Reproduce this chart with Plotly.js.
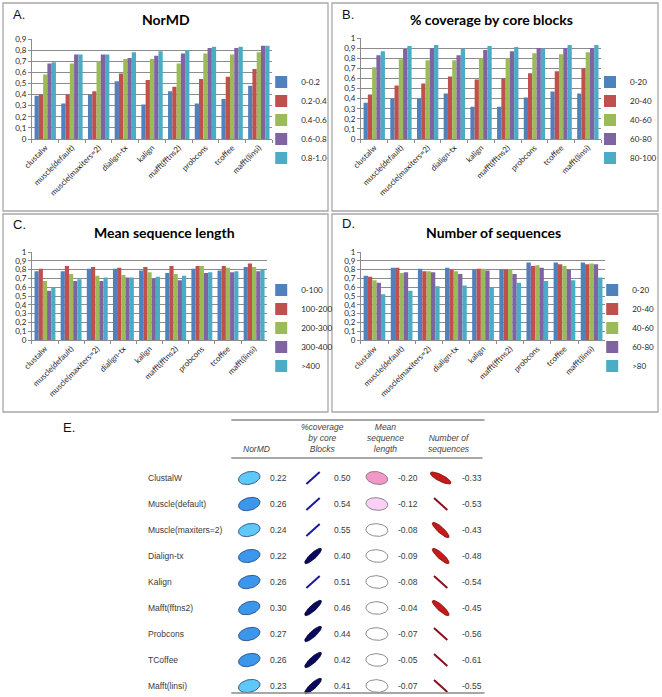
<!DOCTYPE html>
<html><head><meta charset="utf-8">
<script src="https://cdn.plot.ly/plotly-3.0.1.min.js"></script>
<style>html,body{margin:0;padding:0;background:#fff;} #chart{width:662px;height:697px;}</style>
</head><body><div id="chart"></div>
<script>
// ---------------- DATA ----------------
const methods = ['clustalw','muscle(default)','muscle(maxiters=2)','dialign-tx','kalign','mafft(fftns2)','probcons','tcoffee','mafft(linsi)'];

const normdBins = ['0-0.2','0.2-0.4','0.4-0.6','0.6-0.8','0.8-1.0'];
const normdValues = [
  [0.39,0.32,0.40,0.52,0.31,0.43,0.32,0.36,0.48],
  [0.40,0.40,0.43,0.59,0.53,0.47,0.54,0.56,0.63],
  [0.58,0.68,0.70,0.72,0.72,0.68,0.77,0.76,0.78],
  [0.68,0.76,0.76,0.73,0.75,0.77,0.82,0.82,0.84],
  [0.69,0.76,0.76,0.78,0.79,0.80,0.83,0.83,0.84]];

const coverageBins = ['0-20','20-40','40-60','60-80','80-100'];
const coverageValues = [
  [0.36,0.40,0.40,0.45,0.32,0.32,0.41,0.47,0.45],
  [0.44,0.53,0.55,0.62,0.59,0.60,0.65,0.67,0.70],
  [0.71,0.79,0.78,0.78,0.80,0.80,0.85,0.84,0.86],
  [0.83,0.89,0.90,0.83,0.88,0.87,0.90,0.90,0.90],
  [0.87,0.92,0.93,0.89,0.92,0.91,0.89,0.93,0.93]];

const lengthBins = ['0-100','100-200','200-300','300-400','>400'];
const lengthValues = [
  [0.78,0.78,0.81,0.81,0.79,0.76,0.81,0.79,0.83],
  [0.81,0.84,0.83,0.82,0.83,0.84,0.84,0.84,0.87],
  [0.67,0.75,0.73,0.74,0.77,0.75,0.84,0.82,0.83],
  [0.56,0.67,0.67,0.71,0.70,0.68,0.76,0.77,0.78],
  [0.60,0.69,0.71,0.71,0.72,0.73,0.77,0.78,0.80]];

const nseqBins = ['0-20','20-40','40-60','60-80','>80'];
const nseqValues = [
  [0.73,0.82,0.81,0.82,0.80,0.80,0.88,0.88,0.88],
  [0.72,0.82,0.78,0.80,0.81,0.80,0.84,0.86,0.86],
  [0.68,0.76,0.78,0.78,0.81,0.80,0.85,0.84,0.87],
  [0.65,0.77,0.77,0.75,0.79,0.75,0.82,0.80,0.86],
  [0.52,0.56,0.61,0.62,0.60,0.65,0.67,0.68,0.71]];

const tableMethods = ['ClustalW','Muscle(default)','Muscle(maxiters=2)','Dialign-tx','Kalign','Mafft(fftns2)','Probcons','TCoffee','Mafft(linsi)'];
const tableHeaders = ['NorMD','%coverage<br>by core<br>Blocks','Mean<br>sequence<br>length','Number of<br>sequences'];
const corrNorMD    = [0.22,0.26,0.24,0.22,0.26,0.30,0.27,0.26,0.23];
const corrCoverage = [0.50,0.54,0.55,0.40,0.51,0.46,0.44,0.42,0.41];
const corrLength   = [-0.20,-0.12,-0.08,-0.09,-0.08,-0.04,-0.07,-0.05,-0.07];
const corrNseq     = [-0.33,-0.53,-0.43,-0.48,-0.54,-0.45,-0.56,-0.61,-0.55];

// ---------------- STYLE ----------------
const W = 662, H = 697;
const barColors = ['#4F81BD','#C0504D','#9BBB59','#8064A2','#4BACC6'];
const normdShade = ['light','mid','light','mid','mid','mid','mid','mid','light'];
const px = v => v / W;
const py = v => 1 - v / H;
const xdom = (a,b) => [a/W, b/W];
const ydom = (top,bottom) => [1-bottom/H, 1-top/H];
const tickFont = {family:'Lato, "Open Sans", sans-serif', size:8, color:'#262626'};
const grid = '#8C8C8C';

const panels = [
  {bins:normdBins, vals:normdValues, xa:'x', ya:'y', leg:'legend', xd:[32,273], yd:[39,139], range:[0,0.9], lx:262, ly:120},
  {bins:coverageBins, vals:coverageValues, xa:'x2', ya:'y2', leg:'legend2', xd:[362,603], yd:[38,139], range:[0,1], lx:592, ly:120},
  {bins:lengthBins, vals:lengthValues, xa:'x3', ya:'y3', leg:'legend3', xd:[32,268], yd:[252,340], range:[0,1], lx:262, ly:328},
  {bins:nseqBins, vals:nseqValues, xa:'x4', ya:'y4', leg:'legend4', xd:[362,607], yd:[252,340], range:[0,1], lx:594, ly:328}
];

const traces = [];
const layout = {
  width: W, height: H, margin:{l:0,r:0,t:0,b:0},
  paper_bgcolor:'#fff', plot_bgcolor:'rgba(0,0,0,0)',
  separators: ', ',
  barmode:'group', bargap:0.2, bargroupgap:0,
  showlegend:true,
  shapes:[], annotations:[]
};

panels.forEach((p, pi) => {
  const sfx = pi === 0 ? '' : String(pi+1);
  p.bins.forEach((b, bi) => {
    traces.push({
      type:'bar', name:b, x:methods, y:p.vals[bi],
      xaxis:p.xa, yaxis:p.ya, legend:p.leg,
      marker:{color:barColors[bi], line:{width:0}},
      hoverinfo:'x+y+name'
    });
  });
  layout['xaxis'+sfx] = {
    domain: xdom(p.xd[0], p.xd[1]), anchor: p.ya, type:'category',
    tickangle:-45, tickfont:tickFont, showline:true, linecolor:grid, linewidth:1,
    ticks:'outside', ticklen:3, tickcolor:grid, tickson:'boundaries', showgrid:false, fixedrange:true
  };
  layout['yaxis'+sfx] = {
    domain: ydom(p.yd[0], p.yd[1]), anchor: p.xa, range:p.range, dtick:0.1, tick0:0,
    tickfont:tickFont, showline:true, linecolor:grid, linewidth:1, ticks:'outside', ticklen:3, tickcolor:grid,
    showgrid:true, gridcolor:grid, gridwidth:1, zeroline:false, fixedrange:true
  };
  layout[p.leg] = {
    x: px(p.lx), y: py(p.ly), xanchor:'left', yanchor:'middle',
    font:{family:'Lato, "Open Sans", sans-serif', size:8, color:'#262626'},
    bgcolor:'rgba(0,0,0,0)', itemwidth:30, tracegroupgap:0
  };
});

// panel frames
[[3,3,329,211],[333,3,660,211],[3,214,329,412],[333,214,660,412]].forEach(r => {
  layout.shapes.push({type:'rect', xref:'paper', yref:'paper', x0:px(r[0]), x1:px(r[2]), y0:py(r[1]), y1:py(r[3]),
    line:{color:'#A8A8A8', width:1.3}, fillcolor:'rgba(0,0,0,0)', layer:'below'});
});

// titles and panel letters
const titleFont = {family:'Lato, "Open Sans", sans-serif', size:14, color:'#000'};
[['NorMD',167,20],['% coverage by core blocks',493,20],['Mean sequence length',165,233],['Number of sequences',495,233]].forEach(t => {
  layout.annotations.push({text:'<b>'+t[0]+'</b>', xref:'paper', yref:'paper', x:px(t[1]), y:py(t[2]), xanchor:'center', yanchor:'middle', showarrow:false, font:titleFont});
});
const letterFont = {family:'"Liberation Sans", Arial, sans-serif', size:13, color:'#111'};
[['A.',11,15],['B.',341,15],['C.',11,225],['D.',341,224],['E.',61,428]].forEach(t => {
  layout.annotations.push({text:t[0], xref:'paper', yref:'paper', x:px(t[1]), y:py(t[2]), xanchor:'left', yanchor:'middle', showarrow:false, font:letterFont});
});

// ---------------- TABLE (panel E) ----------------
const PXX = 64, PXY = 26;           // pixels per table unit (column, row)
const col0 = 250, row0 = 478;       // pixel centre of first glyph column / first row
layout.xaxis5 = {domain: xdom(219,483), anchor:'y5', range:[(219-col0)/PXX, (483-col0)/PXX], visible:false, fixedrange:true};
layout.yaxis5 = {domain: ydom(465,697), anchor:'x5', range:[(697-row0)/PXY, (465-row0)/PXY], visible:false, fixedrange:true};

function glyphSpec(r) {
  const m = Math.abs(r), s = Math.sign(r);
  if (m >= 0.5) return {kind:'line', half:9, ang:42*s};
  if (m >= 0.38) return {kind:'ell', a:11, b:3, ang:42*s};
  if (m >= 0.31) return {kind:'ell', a:11.5, b:3.3, ang:27*s};
  return {kind:'ell', a:11, b:6.3, ang:r*55};
}
function addGlyph(col, row, r, fill, outline, lineColor) {
  const g = glyphSpec(r), th = g.ang*Math.PI/180;
  if (g.kind === 'line') {
    const dx = g.half*Math.cos(th), dy = g.half*Math.sin(th);
    traces.push({type:'scatter', mode:'lines', xaxis:'x5', yaxis:'y5', showlegend:false, hoverinfo:'skip',
      x:[col - dx/PXX, col + dx/PXX], y:[row + dy/PXY, row - dy/PXY], line:{color:lineColor, width:2}});
    return;
  }
  const xs = [], ys = [];
  for (let k = 0; k <= 48; k++) {
    const t = 2*Math.PI*k/48;
    const dx = g.a*Math.cos(t)*Math.cos(th) - g.b*Math.sin(t)*Math.sin(th);
    const dy = g.a*Math.cos(t)*Math.sin(th) + g.b*Math.sin(t)*Math.cos(th);
    xs.push(col + dx/PXX); ys.push(row - dy/PXY);
  }
  traces.push({type:'scatter', mode:'lines', xaxis:'x5', yaxis:'y5', showlegend:false, hoverinfo:'skip',
    x:xs, y:ys, fill:'toself', fillcolor:fill, line:{color:outline, width:0.8}});
}

const tblFont = {family:'"Liberation Sans", Arial, sans-serif', size:8.5, color:'#3a3a3a'};
const columns = [corrNorMD, corrCoverage, corrLength, corrNseq];
tableMethods.forEach((m, i) => {
  layout.annotations.push({text:m, xref:'paper', yref:'y5', x:px(146), y:i, xanchor:'left', yanchor:'middle', showarrow:false, font:tblFont});
  addGlyph(0, i, corrNorMD[i], normdShade[i] === 'light' ? '#5EC8F8' : '#3B97EB', '#213E7A');
  addGlyph(1, i, corrCoverage[i], '#0A0A5C', '#000033', '#1C1C9A');
  const lr = corrLength[i];
  addGlyph(2, i, lr, lr <= -0.15 ? '#F396C9' : (lr <= -0.10 ? '#FCCFF6' : '#FFFFFF'), '#6E6E6E');
  addGlyph(3, i, corrNseq[i], '#C61A1A', '#7A0A0A', '#8A1020');
  columns.forEach((c, ci) => {
    layout.annotations.push({text:c[i].toFixed(2), xref:'x5', yref:'y5', x:ci + 19/PXX, y:i, xanchor:'left', yanchor:'middle', showarrow:false, font:tblFont});
  });
});
const hdrFont = {family:'"Liberation Sans", Arial, sans-serif', size:8.5, color:'#444'};
[257, 323, 387, 450].forEach((cx, ci) => {
  layout.annotations.push({text:'<i>'+tableHeaders[ci]+'</i>', xref:'paper', yref:'paper', x:px(cx), y:py(456), xanchor:'center', yanchor:'bottom', showarrow:false, font:hdrFont, align:'center'});
});
[[232,486,420],[232,484,458],[232,486,693]].forEach(l => {
  layout.shapes.push({type:'line', xref:'paper', yref:'paper', x0:px(l[0]), x1:px(l[1]), y0:py(l[2]), y1:py(l[2]), line:{color:'#8a8a8a', width:1.5}});
});

Plotly.newPlot('chart', traces, layout, {displayModeBar:false, staticPlot:true});
</script>
</body></html>
